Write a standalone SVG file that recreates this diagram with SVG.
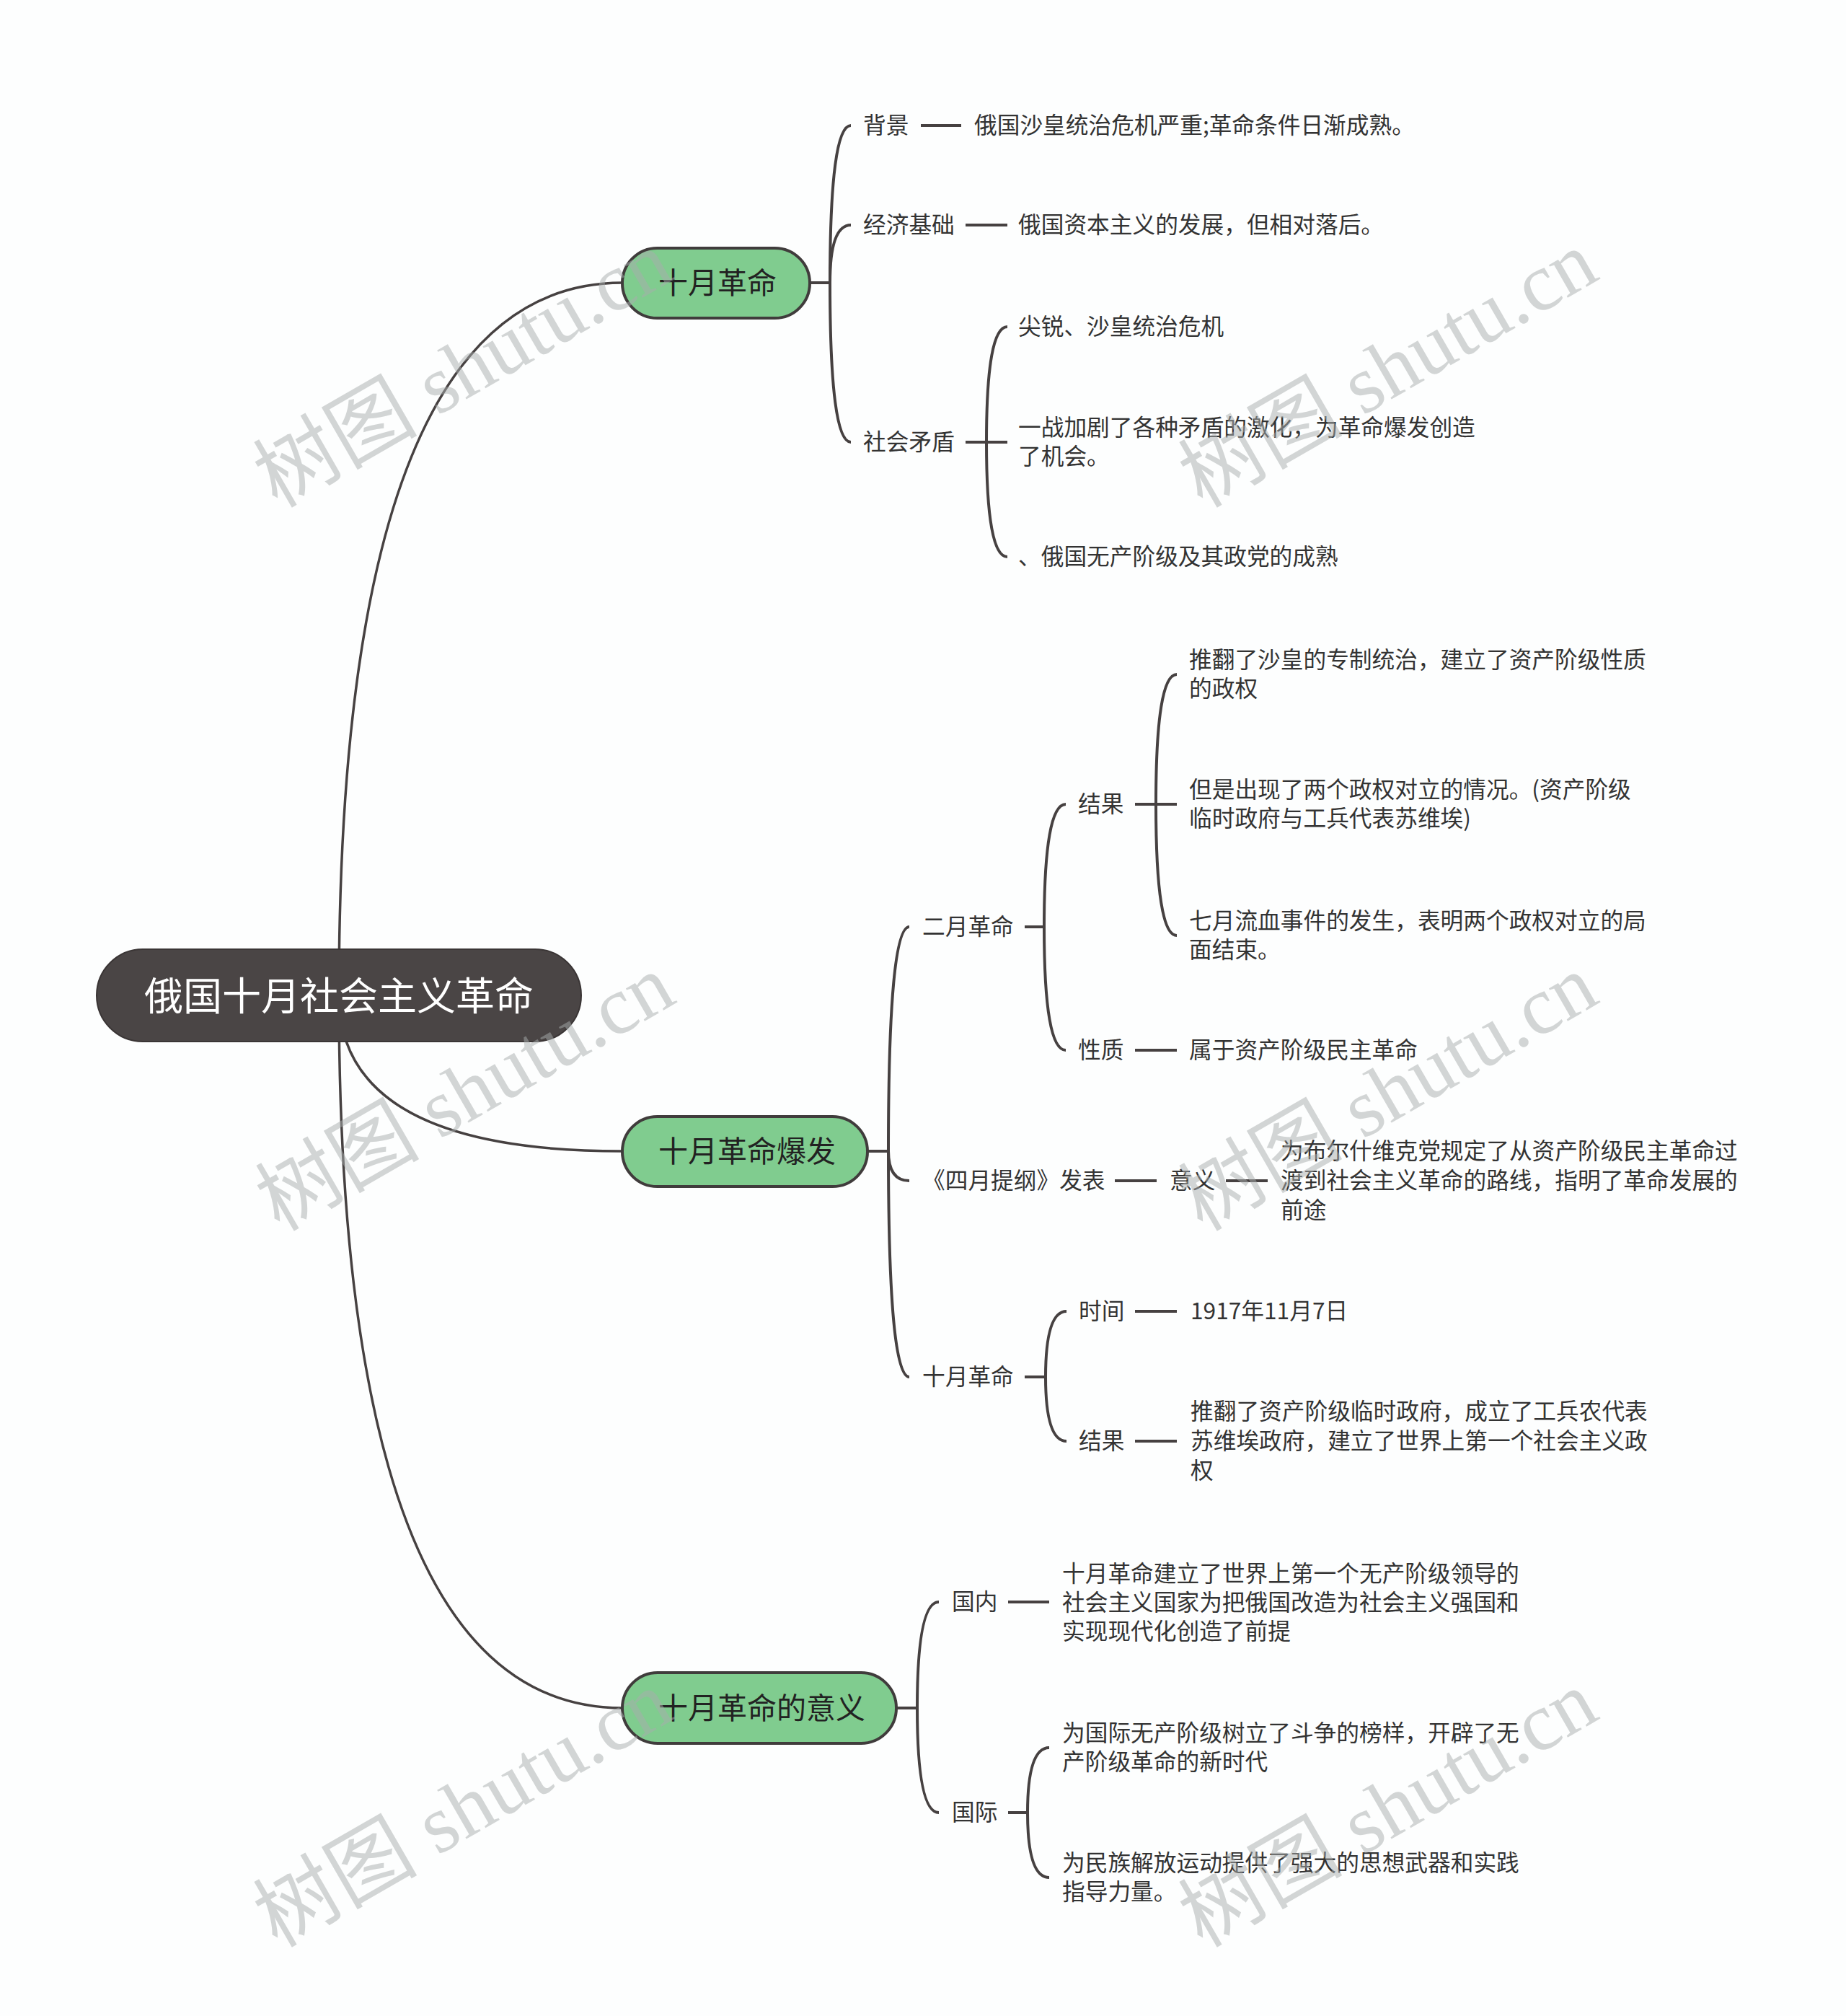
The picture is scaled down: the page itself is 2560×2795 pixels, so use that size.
<svg xmlns="http://www.w3.org/2000/svg" width="2560" height="2795" viewBox="0 0 2560 2795">
<style>
.bg{fill:#fdfefe}
.main{fill:none;stroke:#464141;stroke-width:3.5}
.con{fill:none;stroke:#464141;stroke-width:4}
.root{fill:#4a4545;stroke:#3a3535;stroke-width:2}
.rootT{font-family:"Noto Sans CJK SC","Noto Sans",sans-serif;font-size:54px;fill:#ffffff;text-anchor:middle;dominant-baseline:central;transform:translateY(-3px)}
.l1{fill:#80cc8f;stroke:#403c3c;stroke-width:4}
.l1T{font-family:"Noto Sans CJK SC","Noto Sans",sans-serif;font-size:41px;fill:#222222;dominant-baseline:central;transform:translateY(-3px)}
.t{font-family:"Noto Sans CJK SC","Noto Sans",sans-serif;font-size:31.7px;fill:#333333;dominant-baseline:central;transform:translateY(-3px)}
.wm{font-family:"Liberation Serif","Noto Sans CJK SC",serif;font-size:114px;fill:#a9aeae;opacity:0.5;text-anchor:middle;dominant-baseline:central}
</style>
<rect class="bg" x="0" y="0" width="2560" height="2795"/>

<g id="connectors">
  <path class="main" d="M470 1380 Q470 392 863 392"/>
  <path class="main" d="M470 1380 Q470 1596 863 1596"/>
  <path class="main" d="M470 1380 Q470 2368 863 2368"/>
  <path class="con" d="M1123 392 H1151"/>
  <path class="con" d="M1151 392 Q1151 174 1180 174"/>
  <path class="con" d="M1151 392 Q1151 312 1180 312"/>
  <path class="con" d="M1151 392 Q1151 613 1180 613"/>
  <path class="con" d="M1277 174 H1333"/>
  <path class="con" d="M1339 312 H1397"/>
  <path class="con" d="M1339 613 H1368"/>
  <path class="con" d="M1368 613 Q1368 453 1397 453"/>
  <path class="con" d="M1368 613 H1397"/>
  <path class="con" d="M1368 613 Q1368 772 1397 772"/>
  <path class="con" d="M1203 1596 H1232"/>
  <path class="con" d="M1232 1596 Q1232 1285 1261 1285"/>
  <path class="con" d="M1232 1596 Q1232 1637 1261 1637"/>
  <path class="con" d="M1232 1596 Q1232 1909 1261 1909"/>
  <path class="con" d="M1421 1285 H1448"/>
  <path class="con" d="M1448 1285 Q1448 1115 1478 1115"/>
  <path class="con" d="M1448 1285 Q1448 1456 1478 1456"/>
  <path class="con" d="M1574 1115 H1603"/>
  <path class="con" d="M1603 1115 Q1603 935 1632 935"/>
  <path class="con" d="M1603 1115 H1632"/>
  <path class="con" d="M1603 1115 Q1603 1297 1632 1297"/>
  <path class="con" d="M1574 1456 H1632"/>
  <path class="con" d="M1546 1637 H1604"/>
  <path class="con" d="M1700 1637 H1758"/>
  <path class="con" d="M1421 1909 H1450"/>
  <path class="con" d="M1450 1909 Q1450 1818 1479 1818"/>
  <path class="con" d="M1450 1909 Q1450 1998 1479 1998"/>
  <path class="con" d="M1574 1818 H1632"/>
  <path class="con" d="M1574 1998 H1632"/>
  <path class="con" d="M1243 2368 H1272"/>
  <path class="con" d="M1272 2368 Q1272 2221 1302 2221"/>
  <path class="con" d="M1272 2368 Q1272 2513 1302 2513"/>
  <path class="con" d="M1398 2221 H1455"/>
  <path class="con" d="M1398 2513 H1425"/>
  <path class="con" d="M1425 2513 Q1425 2423 1455 2423"/>
  <path class="con" d="M1425 2513 Q1425 2603 1455 2603"/>
</g>

<g id="root">
  <rect class="root" x="134" y="1316" width="672" height="128" rx="64"/>
  <text class="rootT" x="470" y="1380">俄国十月社会主义革命</text>
</g>

<g id="n-shiyue">
  <rect class="l1" x="863" y="344" width="260" height="97" rx="48.5"/>
  <text class="l1T" x="913" y="392">十月革命</text>
</g>
<g id="n-beijing"><text class="t" x="1197" y="174">背景</text></g>
<g id="n-beijing-c"><text class="t" x="1351" y="174">俄国沙皇统治危机严重;革命条件日渐成熟。</text></g>
<g id="n-jingji"><text class="t" x="1197" y="312">经济基础</text></g>
<g id="n-jingji-c"><text class="t" x="1412" y="312">俄国资本主义的发展，但相对落后。</text></g>
<g id="n-shehui"><text class="t" x="1197" y="613">社会矛盾</text></g>
<g id="n-shehui-1"><text class="t" x="1412" y="453">尖锐、沙皇统治危机</text></g>
<g id="n-shehui-2"><text class="t"><tspan x="1412" y="593">一战加剧了各种矛盾的激化，为革命爆发创造</tspan><tspan x="1412" y="633">了机会。</tspan></text></g>
<g id="n-shehui-3"><text class="t" x="1412" y="772">、俄国无产阶级及其政党的成熟</text></g>

<g id="n-baofa">
  <rect class="l1" x="863" y="1548" width="340" height="97" rx="48.5"/>
  <text class="l1T" x="913" y="1596">十月革命爆发</text>
</g>
<g id="n-eryue"><text class="t" x="1279" y="1285">二月革命</text></g>
<g id="n-eryue-jg"><text class="t" x="1495" y="1115">结果</text></g>
<g id="n-eryue-jg-1"><text class="t"><tspan x="1649" y="915">推翻了沙皇的专制统治，建立了资产阶级性质</tspan><tspan x="1649" y="955">的政权</tspan></text></g>
<g id="n-eryue-jg-2"><text class="t"><tspan x="1649" y="1095">但是出现了两个政权对立的情况。(资产阶级</tspan><tspan x="1649" y="1135">临时政府与工兵代表苏维埃)</tspan></text></g>
<g id="n-eryue-jg-3"><text class="t"><tspan x="1649" y="1277">七月流血事件的发生，表明两个政权对立的局</tspan><tspan x="1649" y="1317">面结束。</tspan></text></g>
<g id="n-eryue-xz"><text class="t" x="1495" y="1456">性质</text></g>
<g id="n-eryue-xz-c"><text class="t" x="1649" y="1456">属于资产阶级民主革命</text></g>
<g id="n-siyue"><text class="t" x="1279" y="1637">《四月提纲》发表</text></g>
<g id="n-siyue-yy"><text class="t" x="1622" y="1637">意义</text></g>
<g id="n-siyue-yy-c"><text class="t"><tspan x="1776" y="1596">为布尔什维克党规定了从资产阶级民主革命过</tspan><tspan x="1776" y="1637">渡到社会主义革命的路线，指明了革命发展的</tspan><tspan x="1776" y="1678">前途</tspan></text></g>
<g id="n-shiyue2"><text class="t" x="1279" y="1909">十月革命</text></g>
<g id="n-shiyue2-sj"><text class="t" x="1496" y="1818">时间</text></g>
<g id="n-shiyue2-sj-c"><text class="t" x="1651" y="1818">1917年11月7日</text></g>
<g id="n-shiyue2-jg"><text class="t" x="1496" y="1998">结果</text></g>
<g id="n-shiyue2-jg-c"><text class="t"><tspan x="1651" y="1957">推翻了资产阶级临时政府，成立了工兵农代表</tspan><tspan x="1651" y="1998">苏维埃政府，建立了世界上第一个社会主义政</tspan><tspan x="1651" y="2039">权</tspan></text></g>

<g id="n-yiyi">
  <rect class="l1" x="863" y="2319" width="380" height="98" rx="49"/>
  <text class="l1T" x="913" y="2368">十月革命的意义</text>
</g>
<g id="n-guonei"><text class="t" x="1320" y="2221">国内</text></g>
<g id="n-guonei-c"><text class="t"><tspan x="1473" y="2182">十月革命建立了世界上第一个无产阶级领导的</tspan><tspan x="1473" y="2222">社会主义国家为把俄国改造为社会主义强国和</tspan><tspan x="1473" y="2262">实现现代化创造了前提</tspan></text></g>
<g id="n-guoji"><text class="t" x="1320" y="2513">国际</text></g>
<g id="n-guoji-1"><text class="t"><tspan x="1473" y="2403">为国际无产阶级树立了斗争的榜样，开辟了无</tspan><tspan x="1473" y="2443">产阶级革命的新时代</tspan></text></g>
<g id="n-guoji-2"><text class="t"><tspan x="1473" y="2583">为民族解放运动提供了强大的思想武器和实践</tspan><tspan x="1473" y="2623">指导力量。</tspan></text></g>

<g id="watermark">
  <text class="wm" transform="rotate(-30 642 512)" x="642" y="512">树图 shutu.cn</text>
  <text class="wm" transform="rotate(-30 1925 512)" x="1925" y="512">树图 shutu.cn</text>
  <text class="wm" transform="rotate(-30 645 1515)" x="645" y="1515">树图 shutu.cn</text>
  <text class="wm" transform="rotate(-30 1925 1515)" x="1925" y="1515">树图 shutu.cn</text>
  <text class="wm" transform="rotate(-30 642 2508)" x="642" y="2508">树图 shutu.cn</text>
  <text class="wm" transform="rotate(-30 1925 2508)" x="1925" y="2508">树图 shutu.cn</text>
</g>
</svg>
